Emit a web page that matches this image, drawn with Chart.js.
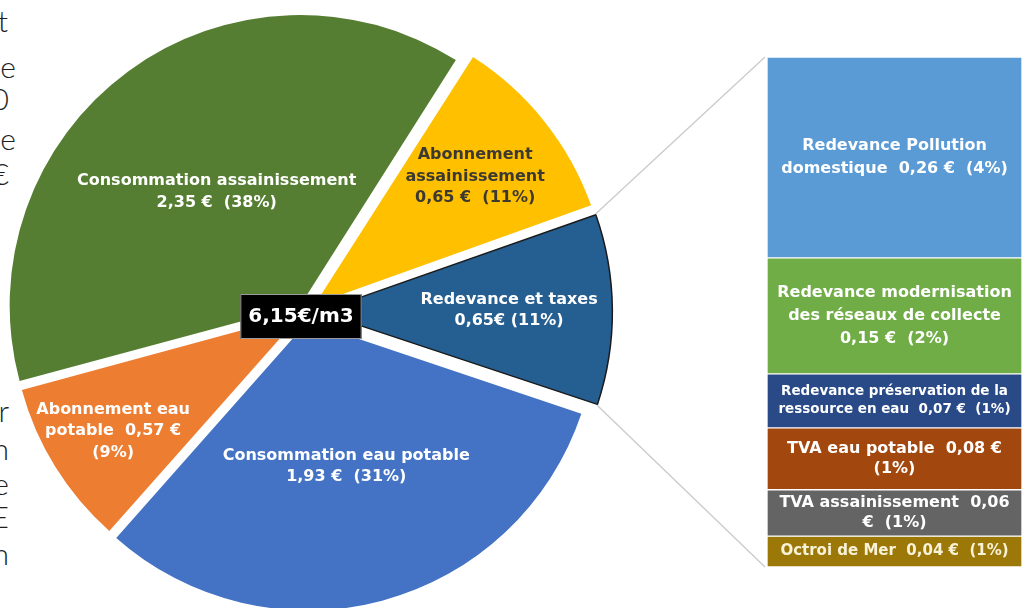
<!DOCTYPE html>
<html lang="fr">
<head>
<meta charset="utf-8">
<title>Prix de l'eau au m3</title>
<script src="https://cdn.jsdelivr.net/npm/chart.js@4.4.1/dist/chart.umd.min.js"></script>
<style>
  html, body { margin: 0; padding: 0; width: 1028px; height: 608px; overflow: hidden; background: #fff; }
  #camembert { position: absolute; left: 0; top: 0; }
  #barre { position: absolute; left: 767px; top: 57px; }
  .bord {
    position: absolute; left: -40px; height: 30px;
    font-family: Lato, "DejaVu Sans", sans-serif; font-weight: 300;
    font-size: 30px; line-height: 30px; color: #1e1e1e; text-align: right;
  }
</style>
</head>
<body>
<div id="texteBord"></div>
<canvas id="camembert" width="1028" height="624"></canvas>
<canvas id="barre" width="255" height="510"></canvas>
<script>
// DONNÉES DU CAMEMBERT (sens horaire, à partir de "Redevance et taxes")
const categories = [
  "Redevance et taxes",
  "Consommation eau potable",
  "Abonnement eau potable",
  "Consommation assainissement",
  "Abonnement assainissement",
];
const valeurs = [0.65, 1.93, 0.57, 2.35, 0.65];
const etiquettes = [
  ["Redevance et taxes", "0,65€ (11%)"],
  ["Consommation eau potable", "1,93 €  (31%)"],
  ["Abonnement eau", "potable  0,57 €", "(9%)"],
  ["Consommation assainissement", "2,35 €  (38%)"],
  ["Abonnement", "assainissement", "0,65 €  (11%)"],
];
const prixTotal = "6,15€/m3";

// DÉTAIL DES REDEVANCES ET TAXES (de haut en bas)
const detailCategories = [
  "Redevance Pollution domestique",
  "Redevance modernisation des réseaux de collecte",
  "Redevance préservation de la ressource en eau",
  "TVA eau potable",
  "TVA assainissement",
  "Octroi de Mer",
];
const detailValeurs = [0.26, 0.15, 0.07, 0.08, 0.06, 0.04];
const detailEtiquettes = [
  ["Redevance Pollution", "domestique  0,26 €  (4%)"],
  ["Redevance modernisation", "des réseaux de collecte", "0,15 €  (2%)"],
  ["Redevance préservation de la", "ressource en eau  0,07 €  (1%)"],
  ["TVA eau potable  0,08 €", "(1%)"],
  ["TVA assainissement  0,06", "€  (1%)"],
  ["Octroi de Mer  0,04 €  (1%)"],
];

// MORCEAUX DU TEXTE VOISIN, COUPÉS AU BORD GAUCHE
const lettresBord = ["t", "e", "0", "e", "€", "r", "n", "e", "E", "n"];

// STYLES
const couleurs = ["#255e91", "#4472c4", "#ed7d31", "#567e32", "#ffc000"];
const couleursTexte = ["#ffffff", "#ffffff", "#ffffff", "#ffffff", "#3c3a30"];
const decalages = [56, 40, 16, 32, 52]; // explosion des parts
const distanceEtiquettes = [0.66, 0.52, 0.77, 0.49, 0.71];
const couleursDetail = ["#5b9bd5", "#70ad47", "#294a87", "#a2480f", "#646464", "#9c7808"];
const policesDetail = [16, 16, 13.5, 16, 16, 15];
const interligneDetail = [23, 23, 18, 20, 20, 20];
const couleursTexteDetail = ["#fff", "#fff", "#fff", "#fff", "#fff", "#f8f3d8"];
const bordDroite = [8, 16, 9, 16, 9, 9, 9, 9, 9, 9];
const bordLigne = [32, 78, 110, 150, 185, 422, 460, 495, 528, 565];

// TEXTE DU BORD
const bord = document.getElementById("texteBord");
lettresBord.forEach((l, i) => {
  const div = document.createElement("div");
  div.className = "bord";
  div.textContent = l;
  div.style.width = (bordDroite[i] + 40) + "px";
  div.style.top = (bordLigne[i] - 27) + "px";
  bord.appendChild(div);
});

// TEXTES DANS LA BARRE DE DÉTAIL
const texteBarre = {
  id: "texteBarre",
  afterDatasetsDraw(chart) {
    const ctx = chart.ctx;
    ctx.save();
    ctx.textAlign = "center";
    ctx.textBaseline = "middle";
    chart.data.datasets.forEach((ds, i) => {
      const bar = chart.getDatasetMeta(i).data[0];
      const yc = (bar.y + bar.base) / 2;
      const lignes = detailEtiquettes[i];
      ctx.font = "bold " + policesDetail[i] + "px 'DejaVu Sans'";
      ctx.fillStyle = couleursTexteDetail[i];
      lignes.forEach((t, k) => {
        ctx.fillText(t, bar.x, yc + (k - (lignes.length - 1) / 2) * interligneDetail[i]);
      });
    });
    ctx.restore();
  },
};

const totalDetail = detailValeurs.reduce((s, v) => s + v, 0);

const barre = new Chart(document.getElementById("barre"), {
  type: "bar",
  data: {
    labels: ["Redevance et taxes"],
    datasets: detailValeurs.map((v, i) => ({
      label: detailCategories[i],
      data: [v],
      backgroundColor: couleursDetail[i],
      borderColor: "#ffffff",
      borderWidth: 1,
      borderSkipped: false,
      barPercentage: 1,
      categoryPercentage: 1,
    })),
  },
  options: {
    responsive: false,
    animation: false,
    events: [],
    plugins: { legend: { display: false }, tooltip: { enabled: false } },
    scales: {
      x: { display: false, stacked: true },
      y: { display: false, stacked: true, reverse: true, min: 0, max: totalDetail },
    },
  },
  plugins: [texteBarre],
});

// ÉTIQUETTES, PRIX CENTRAL ET LIGNES DE RENVOI
const decorCamembert = {
  id: "decorCamembert",
  afterDatasetsDraw(chart) {
    const ctx = chart.ctx;
    const arcs = chart.getDatasetMeta(0).data;
    ctx.save();
    ctx.textAlign = "center";
    ctx.textBaseline = "middle";
    ctx.font = "bold 16px 'DejaVu Sans'";
    arcs.forEach((arc, i) => {
      const milieu = (arc.startAngle + arc.endAngle) / 2;
      const decal = (arc.options.offset || 0) / 4;
      const d = decal + distanceEtiquettes[i] * arc.outerRadius;
      const x = arc.x + Math.cos(milieu) * d;
      const y = arc.y + Math.sin(milieu) * d;
      const lignes = etiquettes[i];
      ctx.fillStyle = couleursTexte[i];
      lignes.forEach((t, k) => ctx.fillText(t, x, y + (k - (lignes.length - 1) / 2) * 21.5));
    });

    // prix au centre
    const c = arcs[0];
    ctx.font = "bold 20px 'DejaVu Sans'";
    const w = ctx.measureText(prixTotal).width + 16;
    ctx.fillStyle = "#000";
    ctx.fillRect(c.x - w / 2 - 4, c.y - 18, w, 45);
    ctx.strokeStyle = "#9a9a9a";
    ctx.lineWidth = 1;
    ctx.strokeRect(c.x - w / 2 - 4 + 0.5, c.y - 18 + 0.5, w - 1, 44);
    ctx.fillStyle = "#fff";
    ctx.fillText(prixTotal, c.x - 4, c.y + 5);

    // lignes vers la barre de détail
    const a = arcs[0];
    const milieu = (a.startAngle + a.endAngle) / 2;
    const decal = (a.options.offset || 0) / 4;
    const cx = a.x + Math.cos(milieu) * decal;
    const cy = a.y + Math.sin(milieu) * decal;
    const circ = a.endAngle - a.startAngle;
    const r = a.outerRadius + decal * (1 - Math.sin(Math.min(Math.PI, circ)));
    const dx = barre.canvas.offsetLeft - chart.canvas.offsetLeft;
    const dy = barre.canvas.offsetTop - chart.canvas.offsetTop;
    const haut = barre.getDatasetMeta(0).data[0];
    const bas = barre.getDatasetMeta(detailValeurs.length - 1).data[0];
    ctx.strokeStyle = "#cdcdcd";
    ctx.lineWidth = 1.5;
    ctx.beginPath();
    ctx.moveTo(cx + r * Math.cos(a.startAngle), cy + r * Math.sin(a.startAngle));
    ctx.lineTo(haut.x - haut.width / 2 + dx - 2, Math.min(haut.y, haut.base) + dy);
    ctx.moveTo(cx + r * Math.cos(a.endAngle), cy + r * Math.sin(a.endAngle));
    ctx.lineTo(bas.x - bas.width / 2 + dx - 2, Math.max(bas.y, bas.base) + dy);
    ctx.stroke();
    ctx.restore();
  },
};

const camembert = new Chart(document.getElementById("camembert"), {
  type: "pie",
  data: {
    labels: categories,
    datasets: [
      {
        data: valeurs,
        backgroundColor: couleurs,
        offset: decalages,
        borderWidth: [1.5, 0, 0, 0, 0],
        borderColor: "#1b1b1b",
      },
    ],
  },
  options: {
    responsive: false,
    animation: false,
    events: [],
    rotation: 70.5,
    radius: 288,
    layout: { padding: { left: 0, top: 0, right: 418, bottom: 0 } },
    plugins: { legend: { display: false }, tooltip: { enabled: false } },
  },
  plugins: [decorCamembert],
});
</script>
</body>
</html>
